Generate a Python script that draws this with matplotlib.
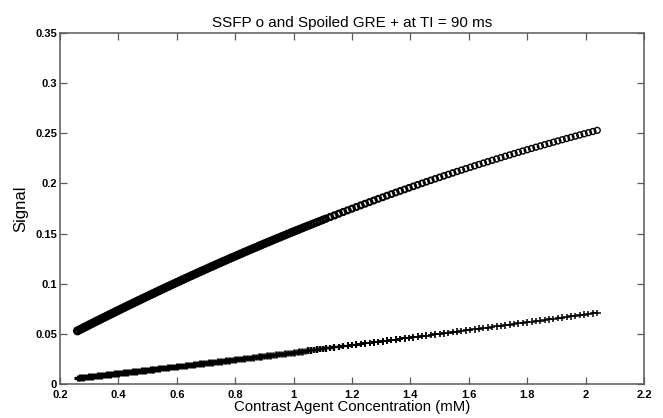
import matplotlib
matplotlib.use('Agg')
import matplotlib.pyplot as plt
import numpy as np

plt.rcParams['font.family'] = ['Liberation Sans', 'DejaVu Sans']

# contrast agent concentration (mM)
conc = [
    0.26, 0.27, 0.28, 0.29, 0.30, 0.31, 0.32, 0.33, 0.34, 0.35,
    0.36, 0.37, 0.38, 0.39, 0.40, 0.41, 0.42, 0.43, 0.44, 0.45,
    0.46, 0.47, 0.48, 0.49, 0.50, 0.51, 0.52, 0.53, 0.54, 0.55,
    0.56, 0.57, 0.58, 0.59, 0.60, 0.61, 0.62, 0.63, 0.64, 0.65,
    0.66, 0.67, 0.68, 0.69, 0.70, 0.71, 0.72, 0.73, 0.74, 0.75,
    0.76, 0.77, 0.78, 0.79, 0.80, 0.81, 0.82, 0.83, 0.84, 0.85,
    0.86, 0.87, 0.88, 0.89, 0.90, 0.91, 0.92, 0.93, 0.94, 0.95,
    0.96, 0.97, 0.98, 0.99, 1.00, 1.01, 1.02, 1.03, 1.04, 1.05,
    1.06, 1.07, 1.08, 1.09, 1.10,
    1.110, 1.125, 1.140, 1.155, 1.170, 1.185, 1.200, 1.215, 1.230, 1.245,
    1.260, 1.275, 1.290, 1.305, 1.320, 1.335, 1.350, 1.365, 1.380, 1.395,
    1.410, 1.425, 1.440, 1.455, 1.470, 1.485, 1.500, 1.515, 1.530, 1.545,
    1.560, 1.575, 1.590, 1.605, 1.620, 1.635, 1.650, 1.665, 1.680, 1.695,
    1.710, 1.725, 1.740, 1.755, 1.770, 1.785, 1.800, 1.815, 1.830, 1.845,
    1.860, 1.875, 1.890, 1.905, 1.920, 1.935, 1.950, 1.965, 1.980, 1.995,
    2.010, 2.025, 2.040,
]

# SSFP signal (plotted with o)
ssfp_signal = [
    0.05303, 0.05452, 0.05600, 0.05748, 0.05896, 0.06043, 0.06190, 0.06336, 0.06482, 0.06627,
    0.06772, 0.06917, 0.07061, 0.07205, 0.07348, 0.07491, 0.07634, 0.07776, 0.07918, 0.08059,
    0.08200, 0.08341, 0.08481, 0.08621, 0.08760, 0.08899, 0.09038, 0.09176, 0.09314, 0.09451,
    0.09588, 0.09724, 0.09860, 0.09996, 0.10131, 0.10266, 0.10400, 0.10534, 0.10668, 0.10801,
    0.10934, 0.11066, 0.11198, 0.11329, 0.11460, 0.11591, 0.11721, 0.11851, 0.11980, 0.12109,
    0.12238, 0.12366, 0.12494, 0.12621, 0.12748, 0.12874, 0.13000, 0.13126, 0.13251, 0.13376,
    0.13500, 0.13624, 0.13748, 0.13871, 0.13994, 0.14116, 0.14238, 0.14360, 0.14481, 0.14602,
    0.14722, 0.14842, 0.14962, 0.15081, 0.15200, 0.15318, 0.15436, 0.15553, 0.15670, 0.15787,
    0.15903, 0.16019, 0.16134, 0.16249, 0.16364,
    0.16478, 0.16649, 0.16818, 0.16987, 0.17155, 0.17321, 0.17487, 0.17652, 0.17816, 0.17979,
    0.18141, 0.18303, 0.18463, 0.18622, 0.18781, 0.18938, 0.19095, 0.19250, 0.19405, 0.19559,
    0.19712, 0.19864, 0.20015, 0.20165, 0.20314, 0.20462, 0.20610, 0.20756, 0.20901, 0.21046,
    0.21190, 0.21332, 0.21474, 0.21615, 0.21755, 0.21894, 0.22032, 0.22169, 0.22305, 0.22440,
    0.22575, 0.22708, 0.22840, 0.22972, 0.23102, 0.23232, 0.23361, 0.23489, 0.23615, 0.23741,
    0.23866, 0.23990, 0.24113, 0.24236, 0.24357, 0.24477, 0.24597, 0.24715, 0.24833, 0.24950,
    0.25065, 0.25180, 0.25294,
]

# spoiled GRE signal (plotted with +)
gre_signal = [
    0.00600, 0.00633, 0.00666, 0.00699, 0.00732, 0.00765, 0.00798, 0.00832, 0.00865, 0.00898,
    0.00932, 0.00965, 0.00998, 0.01032, 0.01065, 0.01099, 0.01133, 0.01166, 0.01200, 0.01234,
    0.01268, 0.01301, 0.01335, 0.01369, 0.01403, 0.01437, 0.01471, 0.01505, 0.01539, 0.01573,
    0.01607, 0.01642, 0.01676, 0.01710, 0.01745, 0.01779, 0.01813, 0.01848, 0.01882, 0.01917,
    0.01951, 0.01986, 0.02021, 0.02055, 0.02090, 0.02125, 0.02160, 0.02194, 0.02229, 0.02264,
    0.02299, 0.02334, 0.02369, 0.02404, 0.02439, 0.02475, 0.02510, 0.02545, 0.02580, 0.02616,
    0.02651, 0.02686, 0.02722, 0.02757, 0.02793, 0.02828, 0.02864, 0.02899, 0.02935, 0.02971,
    0.03007, 0.03042, 0.03078, 0.03114, 0.03150, 0.03186, 0.03222, 0.03258, 0.03294, 0.03330,
    0.03366, 0.03403, 0.03439, 0.03475, 0.03511,
    0.03548, 0.03602, 0.03657, 0.03712, 0.03767, 0.03822, 0.03877, 0.03932, 0.03987, 0.04042,
    0.04098, 0.04153, 0.04209, 0.04265, 0.04320, 0.04376, 0.04432, 0.04488, 0.04544, 0.04600,
    0.04657, 0.04713, 0.04770, 0.04826, 0.04883, 0.04940, 0.04996, 0.05053, 0.05110, 0.05168,
    0.05225, 0.05282, 0.05339, 0.05397, 0.05455, 0.05512, 0.05570, 0.05628, 0.05686, 0.05744,
    0.05802, 0.05860, 0.05918, 0.05977, 0.06035, 0.06094, 0.06152, 0.06211, 0.06270, 0.06329,
    0.06388, 0.06447, 0.06506, 0.06565, 0.06624, 0.06684, 0.06743, 0.06803, 0.06863, 0.06923,
    0.06983, 0.07043, 0.07103,
]

x_ticks = [0.2, 0.4, 0.6, 0.8, 1.0, 1.2, 1.4, 1.6, 1.8, 2.0, 2.2]
x_tick_labels = ['0.2', '0.4', '0.6', '0.8', '1', '1.2', '1.4', '1.6', '1.8', '2', '2.2']
y_ticks = [0, 0.05, 0.1, 0.15, 0.2, 0.25, 0.3, 0.35]
y_tick_labels = ['0', '0.05', '0.1', '0.15', '0.2', '0.25', '0.3', '0.35']

fig = plt.figure(figsize=(6.63, 4.18), dpi=100)
ax = fig.add_axes([0.0905, 0.0813, 0.8808, 0.8397])

# heavier strokes where the samples crowd together at low concentration
c = np.asarray(conc)
ring_lw = np.interp(c, [0.26, 1.0, 1.2, 1.6, 2.04], [2.3, 2.0, 1.6, 1.1, 1.0])
plus_lw = np.interp(c, [0.26, 1.0, 1.2, 1.6, 2.04], [2.3, 1.9, 1.5, 1.15, 1.1])

ax.scatter(conc, ssfp_signal, s=18, marker='o', facecolors='none',
           edgecolors='black', linewidths=ring_lw)
ax.scatter(conc, gre_signal, s=22, marker='+', color='black',
           linewidths=plus_lw)

ax.set_xlim(0.2, 2.2)
ax.set_ylim(0, 0.35)
ax.set_xticks(x_ticks)
ax.set_xticklabels(x_tick_labels)
ax.set_yticks(y_ticks)
ax.set_yticklabels(y_tick_labels)

# matlab style box: ticks inside on every side
axis_col = '#5a5a5a'
for s in ax.spines.values():
    s.set_color(axis_col)
    s.set_linewidth(1.1)
ax.tick_params(direction='in', length=5, width=0.9, color=axis_col,
               top=True, right=True, labelsize=8, pad=2)
for lbl in ax.get_xticklabels() + ax.get_yticklabels():
    lbl.set_fontweight('bold')
ax.tick_params(axis='x', pad=4)

ax.set_title('SSFP o and Spoiled GRE + at TI = 90 ms', fontsize=11, pad=4)
ax.set_xlabel('Contrast Agent Concentration (mM)', fontsize=10.8, labelpad=0)
ax.set_ylabel('Signal', fontsize=12, labelpad=5)

fig.savefig('out.png', dpi=100)
